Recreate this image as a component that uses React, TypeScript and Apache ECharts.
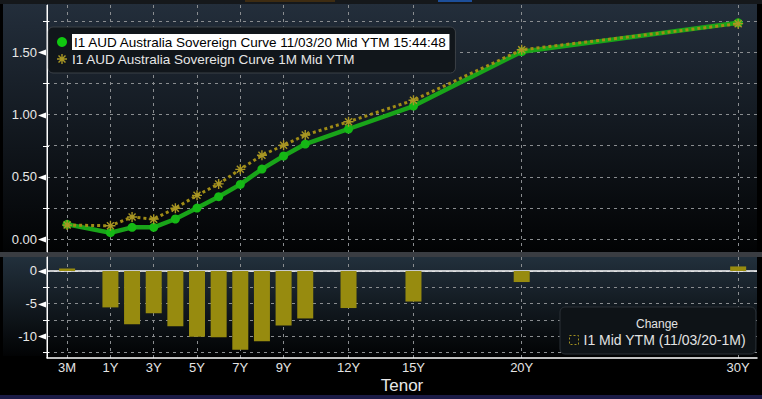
import React, { useEffect, useRef } from "react";
import * as echarts from "echarts";

const tenors = ["3M", "1Y", "2Y", "3Y", "4Y", "5Y", "6Y", "7Y", "8Y", "9Y", "10Y", "12Y", "15Y", "20Y", "30Y"];
const tenorAxisValues = [-1, 1, 2, 3, 4, 5, 6, 7, 8, 9, 10, 12, 15, 20, 30];
const currentYield = [0.118, 0.051, 0.094, 0.094, 0.161, 0.249, 0.34, 0.439, 0.562, 0.667, 0.763, 0.884, 1.068, 1.505, 1.737];
const monthAgoYield = [0.112, 0.107, 0.177, 0.16, 0.248, 0.351, 0.443, 0.56, 0.673, 0.753, 0.836, 0.942, 1.115, 1.52, 1.73];
const changeBp = [0.4, -5.6, -8.2, -6.5, -8.5, -10.1, -10.2, -12.1, -10.8, -8.4, -7.3, -5.7, -4.7, -1.7, 0.7];
const xTickValues = [-1, 1, 3, 5, 7, 9, 12, 15, 20, 30];
const xTickLabels = ["3M", "1Y", "3Y", "5Y", "7Y", "9Y", "12Y", "15Y", "20Y", "30Y"];
const yieldTicks = [0, 0.25, 0.5, 0.75, 1, 1.25, 1.5, 1.75];
const yieldLabels = [0, 0.5, 1, 1.5];
const changeTicks = [-12.5, -10, -7.5, -5, -2.5, 0];
const changeLabels = [-10, -5, 0];

const SERIES_NOW = "I1 AUD Australia Sovereign Curve 11/03/20 Mid YTM 15:44:48";
const SERIES_PREV = "I1 AUD Australia Sovereign Curve 1M Mid YTM";
const SERIES_CHG = "I1 Mid YTM (11/03/20-1M)";
const LEGEND_TITLE = "Change";
const X_NAME = "Tenor";

const FONT = "'Liberation Sans', Arial, sans-serif";
const STAR =
  "path://M4.3 0L5.7 0L5.7 10L4.3 10Z M0 4.3L10 4.3L10 5.7L0 5.7Z M2 1L9 8L8 9L1 2Z M8 1L9 2L2 9L1 8Z";

const X_MIN = -1.93;
const X_MAX = 30.87;
const Y0_MIN = -0.104;
const Y0_MAX = 1.88;
const Y1_MIN = -13.38;
const Y1_MAX = 2.15;

export default function App() {
  const ref = useRef<HTMLDivElement>(null);
  useEffect(() => {
    if (!ref.current) return;
    const chart = echarts.init(ref.current, undefined, { renderer: "svg" });
    const xLabel = (v: number) => {
      const i = xTickValues.indexOf(v);
      return i >= 0 ? xTickLabels[i] : "";
    };
    const dashed = { color: "#8a8d90", width: 1, type: [3, 4] as any };
    const panelGrad = (c1: string) =>
      new echarts.graphic.LinearGradient(0, 0, 0, 1, [
        { offset: 0, color: c1 },
        { offset: 1, color: "#020304" },
      ]);
    const base: any[] = [
      { id: "b0", type: "rect", z: -10, shape: { x: 0, y: 0, width: 762, height: 4 }, style: { fill: "#15181b" } },
      { id: "b1", type: "rect", z: -10, shape: { x: 245, y: 0, width: 90, height: 2 }, style: { fill: "#3e2c12" } },
      { id: "b2", type: "rect", z: -10, shape: { x: 438, y: 0, width: 34, height: 2 }, style: { fill: "#1d4f9a" } },
      { id: "b3", type: "rect", z: -10, shape: { x: 3, y: 4, width: 754, height: 248 }, style: { fill: panelGrad("#232e3b") } },
      { id: "b4", type: "rect", z: -10, shape: { x: 0, y: 252, width: 762, height: 5 }, style: { fill: "#3a3d42" } },
      { id: "b5", type: "rect", z: -10, shape: { x: 3, y: 257, width: 754, height: 99 }, style: { fill: panelGrad("#22303c") } },
      { id: "b6", type: "rect", z: -10, shape: { x: 0, y: 395, width: 762, height: 4 }, style: { fill: "#1b1b46" } },
      {
        id: "b7",
        type: "text",
        z: 100,
        x: 657,
        y: 324,
        style: { text: LEGEND_TITLE, fill: "#e2e2e2", font: `13.5px ${FONT}`, textAlign: "center", textVerticalAlign: "middle" },
      },
    ];
    const yAxisCommon = (min: number, max: number, ticks: number[], labels: number[], fmt: (v: number) => string) => ({
      type: "value",
      z: 3,
      position: "left",
      min,
      max,
      axisLine: { show: true, onZero: false, lineStyle: { color: "#ffffff", width: 1 } },
      axisTick: { show: false, customValues: ticks },
      axisLabel: { customValues: labels, formatter: fmt, color: "#e8e8e8", fontSize: 13, margin: 10, fontFamily: FONT },
      splitLine: { show: true, lineStyle: dashed },
    });
    const option: any = {
      animation: false,
      backgroundColor: "#000000",
      textStyle: { fontFamily: FONT },
      graphic: { elements: base },
      legend: [
        {
          z: 20,
          left: 48,
          top: 27,
          orient: "vertical",
          selectedMode: false,
          backgroundColor: "#11161b",
          borderColor: "#3b4046",
          borderWidth: 1,
          borderRadius: 5,
          padding: [7, 6, 6, 9],
          itemGap: 1,
          itemWidth: 10,
          itemHeight: 10,
          textStyle: { color: "#e6e6e6", fontSize: 13.5, lineHeight: 16, fontFamily: FONT },
          data: [
            {
              name: SERIES_NOW,
              icon: "circle",
              itemStyle: { color: "#10c810" },
              textStyle: { backgroundColor: "#ffffff", color: "#000000", padding: [0, 2], lineHeight: 16 },
            },
            { name: SERIES_PREV, icon: STAR, itemStyle: { color: "#a89624" } },
          ],
        },
        {
          z: 20,
          left: 560,
          top: 307,
          selectedMode: false,
          backgroundColor: "#0e1317",
          borderColor: "#2a3036",
          borderWidth: 1,
          borderRadius: 5,
          padding: [25, 10, 6, 9],
          itemWidth: 9,
          itemHeight: 9,
          textStyle: { color: "#e2e2e2", fontSize: 14, lineHeight: 16, fontFamily: FONT },
          data: [
            {
              name: SERIES_CHG,
              icon: "rect",
              itemStyle: { color: "transparent", borderColor: "#a09020", borderWidth: 1, borderType: [2, 2] },
            },
          ],
        },
      ],
      grid: [
        { left: 47, top: 5, width: 710, height: 247 },
        { left: 47, top: 257, width: 710, height: 101 },
      ],
      xAxis: [
        {
          type: "value",
          gridIndex: 0,
          z: 3,
          min: X_MIN,
          max: X_MAX,
          axisLine: { show: false },
          axisTick: { show: false, customValues: xTickValues },
          axisLabel: { show: false, customValues: xTickValues },
          splitLine: { show: true, lineStyle: dashed },
        },
        {
          type: "value",
          gridIndex: 1,
          z: 3,
          position: "bottom",
          min: X_MIN,
          max: X_MAX,
          name: X_NAME,
          nameLocation: "middle",
          nameGap: 19,
          nameTextStyle: { color: "#e8e8e8", fontSize: 17, fontFamily: FONT },
          axisLine: { show: true, onZero: false, lineStyle: { color: "#ffffff", width: 1.5 } },
          axisTick: { show: false, customValues: xTickValues },
          axisLabel: {
            customValues: xTickValues,
            formatter: (v: number) => xLabel(v),
            color: "#e4e4e4",
            fontSize: 13,
            margin: 3,
            fontFamily: FONT,
          },
          splitLine: { show: true, lineStyle: dashed },
        },
      ],
      yAxis: [
        { gridIndex: 0, ...yAxisCommon(Y0_MIN, Y0_MAX, yieldTicks, yieldLabels, (v: number) => v.toFixed(2)) },
        { gridIndex: 1, ...yAxisCommon(Y1_MIN, Y1_MAX, changeTicks, changeLabels, (v: number) => String(v)) },
      ],
      series: [
        {
          name: SERIES_NOW,
          type: "line",
          xAxisIndex: 0,
          yAxisIndex: 0,
          data: tenorAxisValues.map((x, i) => [x, currentYield[i]]),
          symbol: "circle",
          symbolSize: 9,
          lineStyle: { color: "#19a419", width: 4.5 },
          itemStyle: { color: "#15b815" },
          z: 5,
        },
        {
          name: SERIES_PREV,
          type: "line",
          xAxisIndex: 0,
          yAxisIndex: 0,
          data: tenorAxisValues.map((x, i) => [x, monthAgoYield[i]]),
          symbol: STAR,
          symbolSize: 10,
          lineStyle: { color: "#a08c16", width: 3, type: [3, 3] },
          itemStyle: { color: "#a89624" },
          z: 6,
        },
        {
          name: SERIES_CHG,
          type: "bar",
          xAxisIndex: 1,
          yAxisIndex: 1,
          z: 5,
          barWidth: 16,
          data: tenorAxisValues.map((x, i) => [x, changeBp[i]]),
          itemStyle: { color: "#978b0f" },
          markLine: {
            silent: true,
            symbol: "none",
            label: { show: false },
            lineStyle: { color: "#ffffff", width: 1.5, type: "solid" },
            data: [{ yAxis: 0 }],
          },
        },
      ],
    };
    chart.setOption(option);

    // left axis rules, tick marks and arrows, placed through the library's scales, drawn on a top layer
    const px = (finder: any, v: number, fallback: number) => {
      const r = Number(chart.convertToPixel(finder, v));
      return isFinite(r) ? r : fallback;
    };
    const ax = Math.round(px({ xAxisIndex: 0 }, X_MIN, 47));
    const extra: any[] = [];
    const addAxis = (key: string, yIdx: number, min: number, max: number, ticks: number[], labels: number[], fbTop: number, fbBot: number) => {
      const yTop = px({ yAxisIndex: yIdx }, max, fbTop);
      const yBot = px({ yAxisIndex: yIdx }, min, fbBot);
      extra.push({
        id: key + "rule",
        type: "rect",
        zlevel: 10,
        z: 100,
        silent: true,
        shape: { x: ax - 0.5, y: yTop, width: 1.2, height: yBot - yTop },
        style: { fill: "#ffffff" },
      });
      ticks.forEach((t, k) => {
        const y = Math.round(px({ yAxisIndex: yIdx }, t, 0)) + 0.5;
        if (labels.indexOf(t) >= 0) {
          extra.push({
            id: key + "tri" + k,
            type: "polygon",
            zlevel: 10,
            z: 100,
            silent: true,
            shape: { points: [[ax - 9, y], [ax - 1, y - 3], [ax - 1, y + 3]] },
            style: { fill: "#ffffff" },
          });
        } else {
          extra.push({
            id: key + "tick" + k,
            type: "rect",
            zlevel: 10,
            z: 100,
            silent: true,
            shape: { x: ax - 4, y: y - 0.5, width: 6, height: 1 },
            style: { fill: "#ffffff" },
          });
        }
      });
    };
    addAxis("a0", 0, Y0_MIN, Y0_MAX, yieldTicks, yieldLabels, 5, 252);
    addAxis("a1", 1, Y1_MIN, Y1_MAX, changeTicks, changeLabels, 257, 358);
    chart.setOption({ graphic: { elements: [...base.map((e) => ({ id: e.id })), ...extra] } });

    return () => chart.dispose();
  }, []);
  return (
    <div
      ref={ref}
      style={{ position: "fixed", left: 0, top: 0, width: 762, height: 399, background: "#000" }}
    />
  );
}
